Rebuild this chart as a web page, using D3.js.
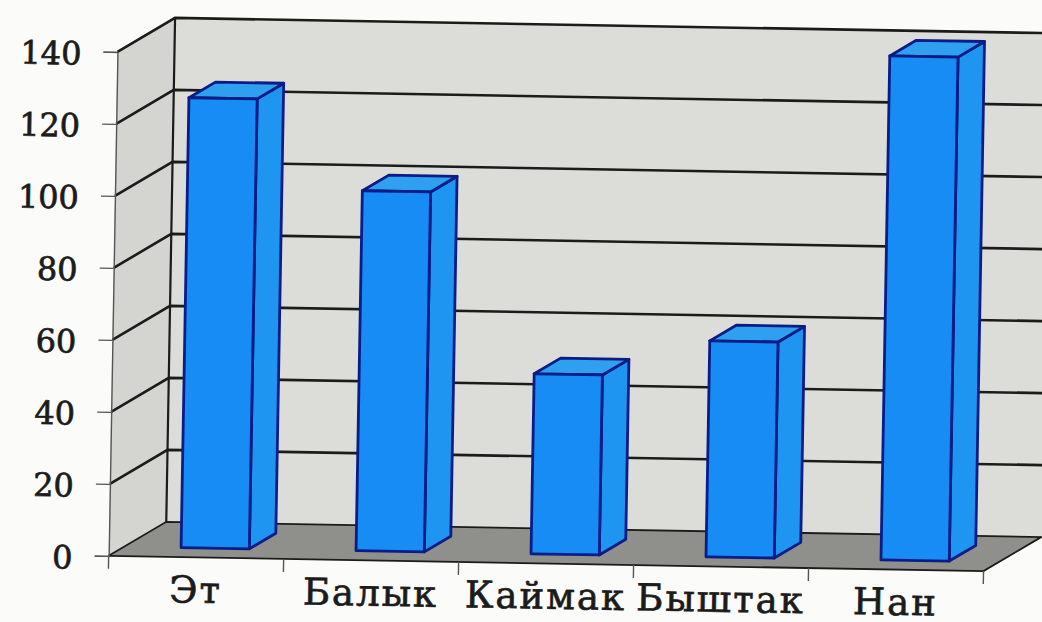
<!DOCTYPE html>
<html>
<head>
<meta charset="utf-8">
<script src="https://cdn.jsdelivr.net/npm/d3@7/dist/d3.min.js"></script>
<style>
  html, body { margin: 0; padding: 0; background: #fbfbf9; }
  svg { display: block; }
</style>
</head>
<body>
<svg id="chart" width="1042" height="622"></svg>
<script>
// Food products and their amounts
const categories = ["Эт", "Балык", "Каймак", "Быштак", "Нан"];
const values = [125, 100, 50, 60, 140];
const tickValues = [0, 20, 40, 60, 80, 100, 120, 140];

const W = 1042, H = 622;
const svg = d3.select("#chart");

// Front plane of the 3D box and the depth offset towards the back wall
const front = { left: 113, right: 988, bottom: 563, top: 59 };
const depth = { dx: 57, dy: -35 };

const x = d3.scaleBand().domain(categories).range([front.left, front.right]).padding(0);
const y = d3.scaleLinear().domain([0, 140]).range([front.bottom, front.top]);

// point on the box at depth fraction t (0 = front, 1 = back)
const P = (px, py, t) => [px + depth.dx * t, py + depth.dy * t];
const poly = pts => "M" + pts.map(p => p.join(",")).join("L") + "Z";

const g = svg.append("g").attr("transform", `rotate(1, ${W / 2}, ${H / 2})`);

const ink = "#1b1b1b";
const textFont = "'DejaVu Serif', serif";

// Back wall
const backL = front.left + depth.dx, backR = front.right + depth.dx + 40;
g.append("path")
  .attr("d", poly([[backL, y(140) + depth.dy], [backR, y(140) + depth.dy], [backR, y(0) + depth.dy], [backL, y(0) + depth.dy]]))
  .attr("fill", "#dcdcd8");

// Left wall
g.append("path")
  .attr("d", poly([[front.left, y(140)], P(front.left, y(140), 1), P(front.left, y(0), 1), [front.left, y(0)]]))
  .attr("fill", "#d4d4d0");

// Floor
g.append("path")
  .attr("d", poly([[front.left, y(0)], [front.right, y(0)], P(front.right, y(0), 1), P(front.left, y(0), 1)]))
  .attr("fill", "#8f8f8c");

// Gridlines: diagonal on the left wall, horizontal on the back wall
const grid = g.append("g").attr("stroke", ink).attr("fill", "none");
tickValues.forEach(v => {
  const a = [front.left, y(v)], b = P(front.left, y(v), 1);
  grid.append("path").attr("d", `M${a}L${b}L${backR},${b[1]}`)
    .attr("stroke-width", v === 0 ? 1.8 : 2.6);
});
// Back wall left edge
grid.append("path")
  .attr("d", `M${P(front.left, y(140), 1)}L${P(front.left, y(0), 1)}`)
  .attr("stroke-width", 2.2);
// Floor right edge and front edge
grid.append("path")
  .attr("d", `M${front.left},${y(0)}L${front.right},${y(0)}L${P(front.right, y(0), 1)}`)
  .attr("stroke-width", 1.8);

// Value axis with ticks on the front edge of the left wall
const yAxis = g.append("g")
  .attr("transform", `translate(${front.left},0)`)
  .call(d3.axisLeft(y).tickValues(tickValues).tickSize(14).tickPadding(22));
yAxis.select(".domain").attr("stroke", "#555").attr("stroke-width", 1.4);
yAxis.selectAll(".tick line").attr("stroke", "#555").attr("stroke-width", 1.4);
yAxis.selectAll(".tick text")
  .attr("font-family", textFont)
  .attr("font-size", 32)
  .attr("fill", ink)
  .attr("stroke", ink)
  .attr("stroke-width", 0.7)
  .attr("dy", "0.4em");

// Category axis along the front edge of the floor
const xAxis = g.append("g")
  .attr("transform", `translate(0,${front.bottom})`)
  .call(d3.axisBottom(x).tickSize(0).tickPadding(19));
xAxis.select(".domain").remove();
xAxis.selectAll(".tick text")
  .attr("font-family", textFont)
  .attr("font-size", 37)
  .attr("letter-spacing", 2)
  .attr("fill", ink)
  .attr("stroke", ink)
  .attr("stroke-width", 0.7);
// boundary ticks between categories
const bounds = categories.map(c => x(c)).concat([front.right]);
g.append("g").selectAll("line").data(bounds).join("line")
  .attr("x1", d => d).attr("x2", d => d)
  .attr("y1", front.bottom).attr("y2", front.bottom + 13)
  .attr("stroke", "#555").attr("stroke-width", 1.4);

// 3D columns
const barW = x.bandwidth() * 0.39;
const barOff = x.bandwidth() * 0.325;
const t0 = 0.27, t1 = 0.73;
const bars = g.append("g").selectAll("g").data(categories.map((c, i) => ({ c, v: values[i] }))).join("g");
bars.each(function (d) {
  const gb = d3.select(this);
  const xl = x(d.c) + barOff, xr = xl + barW;
  const yb = y(0), yt = y(d.v);
  const stroke = { stroke: "#0b1c86", "stroke-width": 2.8, "stroke-linejoin": "round" };
  const side = gb.append("path")
    .attr("d", poly([P(xr, yb, t0), P(xr, yt, t0), P(xr, yt, t1), P(xr, yb, t1)]))
    .attr("fill", "#1f95f2");
  const top = gb.append("path")
    .attr("d", poly([P(xl, yt, t0), P(xr, yt, t0), P(xr, yt, t1), P(xl, yt, t1)]))
    .attr("fill", "#2fa0f0");
  const face = gb.append("path")
    .attr("d", poly([P(xl, yb, t0), P(xr, yb, t0), P(xr, yt, t0), P(xl, yt, t0)]))
    .attr("fill", "#168cf4");
  [side, top, face].forEach(s => Object.entries(stroke).forEach(([k, v]) => s.attr(k, v)));
});
</script>
</body>
</html>
